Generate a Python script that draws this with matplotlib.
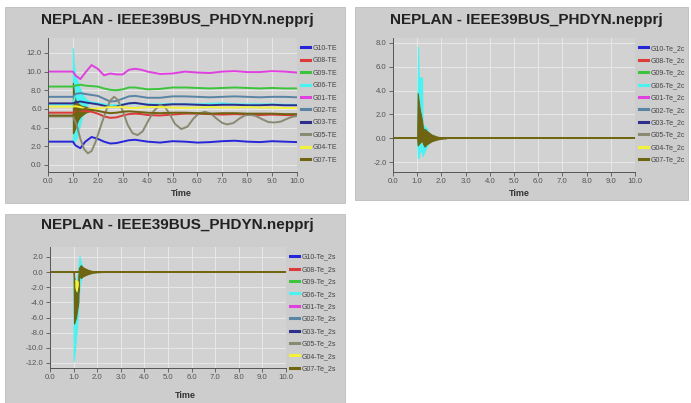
import matplotlib
matplotlib.use("Agg")
import matplotlib.pyplot as plt
from matplotlib.patches import Rectangle
from matplotlib.ticker import FormatStrFormatter, MultipleLocator

plt.rcParams["font.family"] = ["Liberation Sans", "DejaVu Sans"]

W, H = 691, 403

names = ["G10", "G08", "G09", "G06", "G01", "G02", "G03", "G05", "G04", "G07"]
colors = ["#2626d9", "#dd3a3a", "#3cc43c", "#4af2f2", "#e040e0",
          "#5a84a4", "#2e2e8c", "#8a8a72", "#f2f23c", "#6e6412"]

# ---- panel 1: Te (pu) ----
t_main = [0, 1.0, 1.1, 1.3, 1.5, 1.75, 2.0, 2.25, 2.5, 2.75, 3.0, 3.25, 3.5, 3.75,
          4.0, 4.5, 5.0, 5.5, 6.0, 6.5, 7.0, 7.5, 8.0, 8.5, 9.0, 9.5, 10.0]
te_g10 = [2.5, 2.5, 2.1, 1.8, 2.5, 3.0, 2.8, 2.5, 2.3, 2.35, 2.5, 2.65, 2.7, 2.6,
          2.5, 2.4, 2.55, 2.5, 2.4, 2.45, 2.55, 2.6, 2.5, 2.45, 2.55, 2.5, 2.45]
te_g08 = [5.6, 5.6, 5.7, 5.8, 5.8, 5.7, 5.5, 5.2, 5.05, 5.1, 5.3, 5.45, 5.5, 5.45,
          5.35, 5.3, 5.4, 5.5, 5.5, 5.45, 5.4, 5.45, 5.4, 5.35, 5.4, 5.35, 5.3]
te_g09 = [8.4, 8.4, 8.5, 8.6, 8.5, 8.45, 8.4, 8.2, 8.05, 8.0, 8.1, 8.3, 8.3, 8.2,
          8.1, 8.15, 8.3, 8.3, 8.25, 8.2, 8.25, 8.3, 8.25, 8.2, 8.25, 8.2, 8.2]
te_g06 = [6.5, 6.5, 7.5, 7.2, 6.9, 6.7, 6.6, 6.5, 6.4, 6.4, 6.5, 6.6, 6.6, 6.55,
          6.5, 6.5, 6.55, 6.5, 6.5, 6.55, 6.6, 6.5, 6.5, 6.5, 6.5, 6.45, 6.45]
te_g01 = [10.0, 10.0, 9.6, 9.2, 9.9, 10.7, 10.3, 9.6, 9.8, 9.7, 9.7, 10.2, 10.3, 10.2,
          10.0, 9.75, 9.8, 10.0, 9.9, 9.85, 10.0, 10.05, 9.95, 9.95, 10.05, 10.0, 9.9]
te_g02 = [7.3, 7.3, 7.6, 7.7, 7.6, 7.5, 7.4, 7.1, 6.8, 6.85, 7.1, 7.35, 7.4, 7.3,
          7.2, 7.2, 7.35, 7.35, 7.3, 7.25, 7.3, 7.35, 7.3, 7.25, 7.3, 7.3, 7.25]
te_g03 = [6.6, 6.6, 6.7, 6.8, 6.7, 6.6, 6.5, 6.35, 6.2, 6.25, 6.45, 6.6, 6.65, 6.55,
          6.45, 6.4, 6.5, 6.5, 6.45, 6.4, 6.45, 6.45, 6.4, 6.4, 6.45, 6.4, 6.4]
te_g04 = [6.25, 6.25, 6.3, 6.2, 6.0, 6.0, 6.05, 6.15, 6.2, 6.2, 6.2, 6.1, 6.1, 6.15,
          6.2, 6.2, 6.15, 6.1, 6.15, 6.2, 6.15, 6.15, 6.2, 6.15, 6.15, 6.1, 6.1]
te_g07 = [5.3, 5.3, 5.6, 5.9, 6.0, 5.9, 5.8, 5.65, 5.55, 5.6, 5.7, 5.75, 5.7, 5.65,
          5.6, 5.55, 5.6, 5.6, 5.55, 5.5, 5.55, 5.55, 5.5, 5.5, 5.5, 5.45, 5.45]
t_g05 = [0, 1.0, 1.15, 1.3, 1.45, 1.6, 1.75, 1.9, 2.1, 2.3, 2.5, 2.65, 2.8, 3.0, 3.2,
         3.4, 3.6, 3.8, 4.0, 4.25, 4.5, 4.7, 4.9, 5.1, 5.35, 5.6, 5.85, 6.05, 6.3,
         6.55, 6.8, 7.0, 7.2, 7.45, 7.7, 7.9, 8.1, 8.35, 8.6, 8.85, 9.1, 9.35, 9.6,
         9.8, 10.0]
te_g05 = [5.2, 5.2, 4.3, 2.8, 1.7, 1.25, 1.5, 2.4, 4.0, 5.6, 6.9, 7.3, 7.0, 5.8, 4.3,
          3.4, 3.2, 3.6, 4.6, 5.8, 6.4, 6.2, 5.4, 4.4, 3.85, 4.1, 5.0, 5.5, 5.7,
          5.5, 4.9, 4.5, 4.35, 4.5, 5.0, 5.3, 5.4, 5.25, 4.9, 4.6, 4.55, 4.65, 4.95,
          5.15, 5.25]
# fast oscillation envelopes right after the fault
te_cyan_t = [1.0, 1.03, 1.1, 1.2, 1.3, 1.4, 1.5, 1.6]
te_cyan_hi = [12.5, 11.0, 9.5, 8.8, 8.1, 7.5, 7.1, 6.9]
te_cyan_lo = [2.3, 2.4, 2.6, 3.3, 4.5, 5.5, 6.2, 6.5]
te_olive_t = [1.0, 1.03, 1.1, 1.2, 1.3, 1.4, 1.5, 1.6, 1.7, 1.8]
te_olive_hi = [8.8, 8.0, 7.0, 6.6, 6.4, 6.3, 6.25, 6.15, 6.05, 6.0]
te_olive_lo = [3.4, 3.5, 4.0, 4.8, 5.2, 5.4, 5.6, 5.7, 5.8, 5.85]

# ---- panel 2: Te_2c ----
t_flat = [0, 10]
flat = [0.0, 0.0]
c2_cyan_t = [1.0, 1.03, 1.06, 1.1, 1.2, 1.22, 1.3, 1.4, 1.5, 1.6]
c2_cyan_hi = [0.0, 7.7, 5.1, 5.1, 5.1, 1.2, 1.0, 0.8, 0.4, 0.1]
c2_cyan_lo = [0.0, -1.7, -1.6, -1.2, -1.0, -1.5, -1.1, -0.7, -0.3, -0.1]
c2_olive_t = [1.0, 1.02, 1.1, 1.2, 1.25, 1.3, 1.4, 1.6, 1.8, 2.0, 2.2]
c2_olive_hi = [0.0, 3.8, 2.5, 1.5, 0.6, 0.8, 0.6, 0.3, 0.15, 0.05, 0.0]
c2_olive_lo = [0.0, -0.6, -0.4, -0.2, -0.5, -0.7, -0.5, -0.25, -0.12, -0.04, 0.0]

# ---- panel 3: Te_2s ----
s2_cyan_t = [1.0, 1.05, 1.1, 1.15, 1.2, 1.25, 1.3, 1.4, 1.5, 1.6]
s2_cyan_hi = [-0.5, -1.0, -1.2, -0.8, 0.5, 2.1, 1.3, 0.6, 0.3, 0.1]
s2_cyan_lo = [-11.8, -10.5, -8.8, -7.0, -4.5, -2.0, -1.0, -0.5, -0.3, -0.1]
s2_olive_t = [1.0, 1.02, 1.1, 1.15, 1.2, 1.22, 1.3, 1.4, 1.6, 1.8, 2.0, 2.2]
s2_olive_hi = [0.0, -0.5, -2.5, -2.8, -2.6, 0.5, 0.9, 0.6, 0.3, 0.12, 0.04, 0.0]
s2_olive_lo = [0.0, -6.8, -6.0, -5.0, -4.0, -0.3, -0.8, -0.55, -0.28, -0.1, -0.03, 0.0]
s2_yellow_t = [1.05, 1.1, 1.15, 1.2]
s2_yellow_hi = [-1.0, -1.0, -1.1, -1.2]
s2_yellow_lo = [-2.0, -2.6, -2.4, -1.8]

fig = plt.figure(figsize=(W / 100, H / 100), dpi=100)
fig.patch.set_facecolor("white")


def px_rect(x0, y0, x1, y1):
    return [x0 / W, 1 - y1 / H, (x1 - x0) / W, (y1 - y0) / H]


def panel_bg(x0, y0, x1, y1):
    r = px_rect(x0, y0, x1, y1)
    fig.patches.append(Rectangle((r[0], r[1]), r[2], r[3], transform=fig.transFigure,
                                 facecolor="#cdcdcd", edgecolor="#bdbdbd", lw=0.6, zorder=-5))


def style_axes(ax, ylim, ystep):
    ax.set_facecolor("#d2d2d2")
    ax.set_xlim(0, 10)
    ax.set_ylim(*ylim)
    ax.xaxis.set_major_locator(MultipleLocator(1))
    ax.yaxis.set_major_locator(MultipleLocator(ystep))
    ax.xaxis.set_major_formatter(FormatStrFormatter("%.1f"))
    ax.yaxis.set_major_formatter(FormatStrFormatter("%.1f"))
    ax.grid(True, color="#e8e8e8", lw=0.7)
    ax.set_axisbelow(True)
    for s in ["top", "right"]:
        ax.spines[s].set_visible(False)
    for s in ["left", "bottom"]:
        ax.spines[s].set_color("#555555")
        ax.spines[s].set_linewidth(0.7)
    ax.tick_params(labelsize=5.6, colors="#555555", length=3, width=0.6, pad=1.5)


def legend(ax, suffix):
    leg = ax.legend([n + suffix for n in names], loc="upper left", bbox_to_anchor=(1.0, 0.98),
                    frameon=False, fontsize=5.0, handlelength=1.3, handletextpad=0.3,
                    labelspacing=0.78, borderaxespad=0.2, labelcolor="#444444")
    for h in leg.legend_handles:
        h.set_linewidth(2.2)


def title(x, y):
    fig.text(x / W, 1 - y / H, "NEPLAN - IEEE39BUS_PHDYN.nepprj", ha="center", va="center",
             fontsize=11, fontweight="bold", color="#222222")


def time_label(x, y):
    fig.text(x / W, 1 - y / H, "Time", ha="center", va="center", fontsize=6.5,
             fontweight="bold", color="#333333")


# panel 1
panel_bg(5, 7, 345, 203)
ax1 = fig.add_axes(px_rect(48, 38, 297, 172))
style_axes(ax1, (-0.75, 13.6), 2)
series1 = [te_g10, te_g08, te_g09, te_g06, te_g01, te_g02, te_g03, None, te_g04, te_g07]
for n, c, vals in zip(names, colors, series1):
    if vals is None:
        ax1.plot(t_g05, te_g05, color=c, lw=1.4)
    else:
        ax1.plot(t_main, vals, color=c, lw=1.4)
ax1.fill_between(te_cyan_t, te_cyan_lo, te_cyan_hi, color=colors[3], lw=0.8, edgecolor=colors[3])
ax1.fill_between(te_olive_t, te_olive_lo, te_olive_hi, color=colors[9], lw=0.8, edgecolor=colors[9])
legend(ax1, "-TE")
title(177, 20)
time_label(181, 193)

# panel 2
panel_bg(355, 7, 688, 200)
ax2 = fig.add_axes(px_rect(393, 38, 635, 172))
style_axes(ax2, (-2.84, 8.42), 2)
for n, c in zip(names, colors):
    ax2.plot(t_flat, flat, color=c, lw=1.4)
ax2.fill_between(c2_cyan_t, c2_cyan_lo, c2_cyan_hi, color=colors[3], lw=0.8, edgecolor=colors[3])
ax2.fill_between(c2_olive_t, c2_olive_lo, c2_olive_hi, color=colors[9], lw=0.8, edgecolor=colors[9])
legend(ax2, "-Te_2c")
title(526, 20)
time_label(519, 193)

# panel 3
panel_bg(5, 214, 345, 403)
ax3 = fig.add_axes(px_rect(50, 247, 286, 368))
style_axes(ax3, (-12.66, 3.3), 2)
for n, c in zip(names, colors):
    ax3.plot(t_flat, flat, color=c, lw=1.4)
ax3.fill_between(s2_cyan_t, s2_cyan_lo, s2_cyan_hi, color=colors[3], lw=0.8, edgecolor=colors[3])
ax3.fill_between(s2_olive_t, s2_olive_lo, s2_olive_hi, color=colors[9], lw=0.8, edgecolor=colors[9])
ax3.fill_between(s2_yellow_t, s2_yellow_lo, s2_yellow_hi, color=colors[8], lw=0)
legend(ax3, "-Te_2s")
title(177, 225)
time_label(185, 395)

fig.savefig("out.png", dpi=100)
